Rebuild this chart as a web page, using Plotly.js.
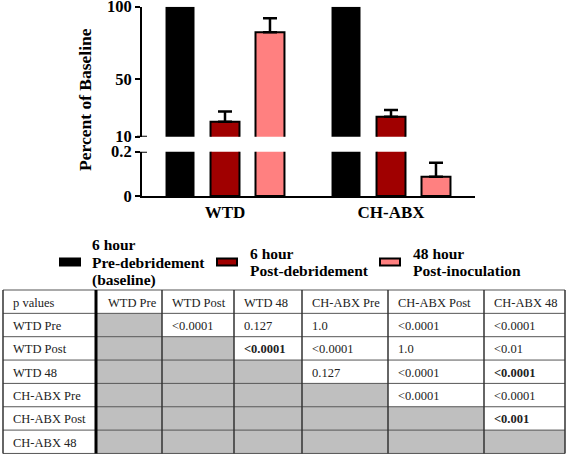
<!DOCTYPE html>
<html><head><meta charset="utf-8">
<script src="https://cdn.plot.ly/plotly-3.0.1.min.js"></script>
<style>html,body{margin:0;padding:0;background:#fff}#chart{width:567px;height:457px}</style>
</head><body><div id="chart"></div>
<script>
// ---- data ----
const groups = ['WTD', 'CH-ABX'];
const seriesNames = ['6 hour<br>Pre-debridement<br>(baseline)', '6 hour<br>Post-debridement', '48 hour<br>Post-inoculation'];
const preValues = [100, 100];
const postValues = [20.4, 23.8];
const h48Values = [82.3, 0.087];
const postErr = [7.0, 4.7];
const h48Err = [9.7, 0.063];
const upperTicks = [10, 50, 100];
const lowerTicks = [0, 0.2];
const lowerTickText = ['0', '0.2'];
const tableHeader = ['p values', 'WTD Pre', 'WTD Post', 'WTD 48', 'CH-ABX Pre', 'CH-ABX Post', 'CH-ABX 48'];
const rowLabels = ['WTD Pre', 'WTD Post', 'WTD 48', 'CH-ABX Pre', 'CH-ABX Post', 'CH-ABX 48'];
const pRows = [
  ['', '&lt;0.0001', '0.127', '1.0', '&lt;0.0001', '&lt;0.0001'],
  ['', '', '&lt;0.0001', '&lt;0.0001', '1.0', '&lt;0.01'],
  ['', '', '', '0.127', '&lt;0.0001', '&lt;0.0001'],
  ['', '', '', '', '&lt;0.0001', '&lt;0.0001'],
  ['', '', '', '', '', '&lt;0.001'],
  ['', '', '', '', '', '']
];
const pBold = [
  [0, 0, 0, 0, 0, 0],
  [0, 0, 1, 0, 0, 0],
  [0, 0, 0, 0, 0, 1],
  [0, 0, 0, 0, 0, 0],
  [0, 0, 0, 0, 0, 1],
  [0, 0, 0, 0, 0, 0]
];

// ---- styling ----
const W = 567, H = 457;
const px = x => x / W;
const py = y => 1 - y / H;
const SERIF = '"Liberation Serif"';
const colors = ['#000000', '#A00000', '#FF8080'];
const values = [preValues, postValues, h48Values];
const errs = [null, postErr, h48Err];

const traces = [];
['y', 'y2'].forEach(ya => {
  values.forEach((v, i) => {
    const t = {
      type: 'bar', x: groups, y: v, xaxis: 'x', yaxis: ya, name: seriesNames[i],
      showlegend: false, hoverinfo: 'skip',
      marker: {color: colors[i], line: {color: '#000', width: i === 0 ? 0 : 2}}
    };
    if (errs[i]) {
      t.error_y = {type: 'data', symmetric: false, array: errs[i], arrayminus: errs[i].map(() => 0),
        color: '#000', thickness: 2.5, width: 7};
    }
    traces.push(t);
  });
});

const shapes = [
  {type: 'line', xref: 'paper', yref: 'y', x0: px(137), x1: px(147), y0: 10, y1: 10, line: {color: '#000', width: 2}},
  {type: 'line', xref: 'paper', yref: 'y2', x0: px(137), x1: px(147), y0: 0.2, y1: 0.2, line: {color: '#000', width: 2}}
];
const annotations = [
  {xref: 'paper', yref: 'paper', x: px(85), y: py(100), xanchor: 'center', yanchor: 'middle', text: 'Percent of Baseline', textangle: -90,
   showarrow: false, font: {family: SERIF, size: 17.5, color: '#000', weight: 'bold'}}
];

// ---- p-value table (cells as shapes + text) ----
const colEdges = [3, 96, 162, 234, 302, 388, 484, 565];
const tableTop = 290, rowH = 23.35, nRows = rowLabels.length + 1;
const rowEdge = k => tableTop + k * rowH;
const cellFont = {family: SERIF, size: 12.5, color: '#222'};
const cellText = (txt, c, r) => annotations.push({xref: 'paper', yref: 'paper',
  x: px(colEdges[c] + (c === 1 ? 10 : 8)), y: py(rowEdge(r) + rowH / 2 + 1), xanchor: 'left', yanchor: 'middle',
  text: txt, showarrow: false, font: cellFont});
// grey fills
pRows.forEach((row, ri) => row.forEach((v, ci) => {
  if (ri >= ci) shapes.push({type: 'rect', xref: 'paper', yref: 'paper', layer: 'below',
    x0: px(colEdges[ci + 1]), x1: px(colEdges[ci + 2]), y0: py(rowEdge(ri + 2)), y1: py(rowEdge(ri + 1)),
    fillcolor: '#bfbfbf', line: {width: 0}});
}));
// grid lines
for (let k = 0; k <= nRows; k++) {
  shapes.push({type: 'line', xref: 'paper', yref: 'paper', x0: px(colEdges[0]), x1: px(colEdges[colEdges.length - 1]),
    y0: py(rowEdge(k)), y1: py(rowEdge(k)), line: {color: '#555', width: 1}});
}
colEdges.forEach((x, k) => {
  shapes.push({type: 'line', xref: 'paper', yref: 'paper', x0: px(x), x1: px(x),
    y0: py(rowEdge(0)), y1: py(rowEdge(nRows)), line: {color: k === 1 ? '#000' : '#333', width: k === 1 ? 3 : 1.5}});
});
// texts
tableHeader.forEach((h, c) => cellText(h, c, 0));
rowLabels.forEach((lab, r) => cellText(lab, 0, r + 1));
pRows.forEach((row, r) => row.forEach((v, c) => {
  if (v) cellText(pBold[r][c] ? '<b>' + v + '</b>' : v, c + 1, r + 1);
}));

// ---- manual legend ----
const swatchX = [60, 217, 380];
const textX = [90, 247.5, 410.5];
const legendMid = 262;
const lineGap = 17.5;
seriesNames.forEach((nm, i) => {
  shapes.push({type: 'rect', xref: 'paper', yref: 'paper', x0: px(swatchX[i]), x1: px(swatchX[i] + 20),
    y0: py(legendMid + 3.5), y1: py(legendMid - 3.5), fillcolor: colors[i], line: {color: '#000', width: 2}});
  const lines = nm.split('<br>');
  lines.forEach((ln, k) => {
    const yy = legendMid + (k - (lines.length - 1) / 2) * lineGap;
    annotations.push({xref: 'paper', yref: 'paper', x: px(textX[i]), y: py(yy), xanchor: 'left', yanchor: 'middle',
      text: ln, showarrow: false, font: {family: SERIF, size: 15.5, color: '#000', weight: 'bold'}});
  });
});

const yTickFont = {family: SERIF, size: 16.5, color: '#000', weight: 'bold'};
const layout = {
  width: W, height: H, margin: {l: 0, r: 0, t: 0, b: 0},
  paper_bgcolor: '#fff', plot_bgcolor: 'rgba(0,0,0,0)',
  barmode: 'group', bargap: 0.187, bargroupgap: 0.356, showlegend: false,
  xaxis: {domain: [px(142), px(475)], anchor: 'y2', type: 'category', range: [-0.5, 1.506],
    showline: true, linewidth: 2, linecolor: '#000', ticks: '', showgrid: false, zeroline: false,
    tickfont: {family: SERIF, size: 17, color: '#000', weight: 'bold'}},
  yaxis: {domain: [py(136.7), py(6.7)], range: [10, 100], anchor: 'x', tickvals: upperTicks,
    ticklabeloverflow: 'allow',
    showline: true, linewidth: 2, linecolor: '#000', ticks: 'outside', ticklen: 5, tickwidth: 2, tickcolor: '#000',
    showgrid: false, zeroline: false, tickfont: yTickFont},
  yaxis2: {domain: [py(196), py(151.7)], range: [0, 0.2], anchor: 'x', tickvals: lowerTicks, ticktext: lowerTickText,
    ticklabeloverflow: 'allow',
    showline: true, linewidth: 2, linecolor: '#000', ticks: 'outside', ticklen: 5, tickwidth: 2, tickcolor: '#000',
    showgrid: false, zeroline: false, tickfont: yTickFont},
  shapes: shapes, annotations: annotations
};

Plotly.newPlot('chart', traces, layout, {displayModeBar: false, staticPlot: true});
</script></body></html>
